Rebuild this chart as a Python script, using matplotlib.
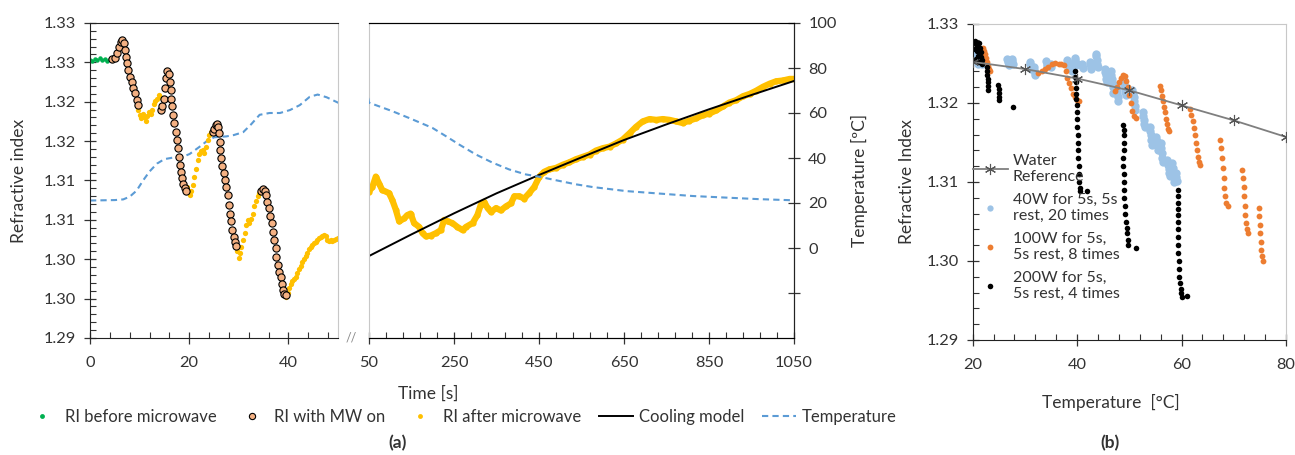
import numpy as np
import matplotlib.pyplot as plt
from matplotlib.lines import Line2D
from matplotlib.ticker import FixedLocator, MultipleLocator

plt.rcParams['font.family'] = ['Lato', 'DejaVu Sans']
plt.rcParams['text.color'] = '#333333'
plt.rcParams['axes.labelcolor'] = '#333333'
plt.rcParams['xtick.color'] = '#333333'
plt.rcParams['ytick.color'] = '#333333'

# ---- panel (a): RI vs time --------------------------------------------
before_t = [0, 0.5, 1.0, 1.5, 2.0, 2.5, 3.0, 3.5, 4.0, 4.3]
before_ri = [1.3253, 1.3252, 1.3254, 1.3253, 1.3255, 1.3253, 1.3254, 1.3252, 1.3254, 1.3253]

mw_t = [4.4, 5.0, 5.5, 5.9, 6.2, 6.5, 6.85, 7.1, 7.25, 7.4, 7.65, 8.05, 8.4, 8.7, 9.05, 9.4, 9.6,
        14.4, 14.6, 14.9, 15.1, 15.3, 15.6, 15.9, 16.1, 16.25, 16.4, 16.6, 16.8, 17.0, 17.25, 17.5,
        17.7, 17.9, 18.1, 18.3, 18.6, 18.85, 19.2, 19.45,
        24.8, 25.1, 25.4, 25.65, 25.9, 26.05, 26.2, 26.3, 26.5, 26.7, 27.0, 27.25, 27.5, 27.8, 28.05,
        28.25, 28.45, 28.7, 29.0, 29.25, 29.5,
        34.55, 34.9, 35.25, 35.5, 35.75, 36.05, 36.3, 36.6, 36.85, 37.1, 37.4, 37.6, 37.85, 38.1,
        38.45, 38.7, 38.95, 39.2, 39.45]
mw_ri = [1.3254, 1.3255, 1.32615, 1.3270, 1.32765, 1.32785, 1.3274, 1.32655, 1.3257, 1.3249,
         1.3240, 1.3232, 1.32255, 1.3218, 1.3211, 1.3202, 1.3196,
         1.3189, 1.31946, 1.3204, 1.3217, 1.3230, 1.3239, 1.3235, 1.32255, 1.3215, 1.3204, 1.3194,
         1.3183, 1.3173, 1.3162, 1.3151, 1.3141, 1.3130, 1.3120, 1.3111, 1.3103, 1.3096, 1.3090, 1.3087,
         1.3162, 1.3166, 1.31705, 1.3172, 1.3168, 1.3160, 1.3149, 1.3139, 1.3128, 1.3118, 1.3109,
         1.3101, 1.3092, 1.3082, 1.3069, 1.3058, 1.3048, 1.3037, 1.3028, 1.3022, 1.3017,
         1.3087, 1.3089, 1.3087, 1.3082, 1.3073, 1.3065, 1.3055, 1.3046, 1.3035, 1.3024, 1.3014,
         1.3003, 1.2993, 1.2984, 1.2978, 1.2969, 1.2961, 1.2956, 1.2955]

after_t = [9.75, 10.05, 10.35, 10.6, 10.85, 11.2, 11.55, 11.9, 12.2, 12.55, 12.9, 13.2, 13.55, 13.9, 14.2,
           19.6, 19.85, 20.15, 20.45, 20.8, 21.05, 21.35, 21.7, 22.0, 22.35, 22.7, 23.0, 23.35, 23.7,
           24.05, 24.45,
           29.65, 29.95, 30.2, 30.45, 30.8, 31.15, 31.5, 31.8, 32.15, 32.5, 32.8, 33.15, 33.5, 33.8, 34.15,
           39.6, 39.85, 40.15, 40.45, 40.8, 41.15, 41.5, 41.8, 42.15, 42.5, 42.8, 43.15, 43.5, 43.85,
           44.15, 44.5, 44.85, 45.15, 45.5, 45.85, 46.15, 46.5, 46.85, 47.2, 47.5, 47.85, 48.2, 48.5,
           48.85, 49.2, 49.55, 49.9]
after_ri = [1.3190, 1.3183, 1.3179, 1.3185, 1.3181, 1.3176, 1.3182, 1.3187, 1.3184, 1.3190, 1.3197,
            1.3201, 1.3204, 1.3209, 1.3206,
            1.3092, 1.3086, 1.3082, 1.3087, 1.3094, 1.3105, 1.3115, 1.3126, 1.3134, 1.3137, 1.3139,
            1.3135, 1.3143, 1.3151, 1.3158, 1.3161,
            1.3010, 1.3001, 1.3008, 1.3015, 1.3024, 1.3033, 1.30435, 1.3050, 1.30465, 1.3051, 1.3058,
            1.3067, 1.3074, 1.3080, 1.3084,
            1.2952, 1.2957, 1.2963, 1.2969, 1.2972, 1.2975, 1.2978, 1.2982, 1.2987, 1.2991, 1.2996,
            1.3000, 1.3004, 1.3008, 1.3013, 1.3016, 1.3018, 1.3020, 1.3022, 1.3024, 1.3027, 1.3028,
            1.3030, 1.3031, 1.3030, 1.3025, 1.3023, 1.3024, 1.3023, 1.3025, 1.3026, 1.3027]

after_long_t = [50, 58, 66, 74, 81, 97, 105, 113, 121, 133, 140, 148, 156, 168, 176, 184, 195, 207,
                219, 227, 235, 246, 258, 270, 278, 294, 305, 313, 321, 329, 337, 349, 360, 372, 384,
                392, 404, 415, 427, 439, 451, 462, 474, 490, 506, 521, 537, 553, 569, 584, 600, 616,
                631, 647, 663, 678, 694, 710, 726, 741, 757, 773, 788, 804, 820, 836, 851, 867, 883,
                898, 914, 930, 946, 961, 977, 993, 1008, 1024, 1040, 1050]
after_long_ri = [1.3086, 1.3092, 1.3105, 1.3096, 1.3088, 1.3084, 1.3075, 1.3063, 1.3048, 1.3052,
                 1.3056, 1.3058, 1.3046, 1.3041, 1.3033, 1.3029, 1.3030, 1.3033, 1.3037, 1.3050,
                 1.3048, 1.3046, 1.3041, 1.3037, 1.3041, 1.3046, 1.3056, 1.3069, 1.3073, 1.3065,
                 1.3060, 1.3065, 1.3062, 1.3067, 1.3071, 1.3080, 1.3080, 1.3077, 1.3084, 1.3092,
                 1.3105, 1.3111, 1.3114, 1.3116, 1.3120, 1.3123, 1.3127, 1.3130, 1.3133, 1.3138,
                 1.3141, 1.3143, 1.3147, 1.3152, 1.3160, 1.3168, 1.3175, 1.3178, 1.3177, 1.3178,
                 1.3177, 1.3175, 1.3173, 1.3176, 1.3179, 1.3183, 1.3185, 1.3189, 1.3194, 1.3199,
                 1.3202, 1.3207, 1.3210, 1.3214, 1.3219, 1.3223, 1.3226, 1.3227, 1.3229, 1.3229]

model_t = [50, 150, 250, 350, 450, 550, 650, 750, 850, 950, 1050]
model_ri = [1.30041, 1.30316, 1.30583, 1.30837, 1.31070, 1.31294, 1.31514, 1.31713, 1.31904,
            1.32086, 1.32264]

temp_t = [0, 5, 6.7, 8, 9.4, 10.7, 12, 13.5, 15, 16.8, 18.8, 20.1, 22.1, 23.5, 25, 27.5, 29, 30.9,
          32.5, 34.2, 36.2, 38.3, 40.3, 42.3, 44.3, 45.9, 47.7, 50,
          105, 144, 199, 231, 262, 301, 341, 380, 419, 450, 498, 537, 576, 655, 733, 812, 890, 969, 1050]
temp_c = [21.1, 21.3, 21.6, 22.8, 25.5, 30, 34, 37.5, 39.5, 40.2, 40.6, 41.8, 45.0, 47.4, 49.2, 49.6,
          50.2, 51.5, 55, 59.2, 60, 60, 61.3, 63.5, 67.2, 68.2, 67, 64.6,
          60.8, 57.8, 53.4, 49.7, 46, 41.6, 37.9, 34.9, 32.7, 31.7, 29.8, 28.3, 27.1, 25.3, 24.2,
          23.1, 22.4, 21.7, 21.2]

ri_ticks = [1.29, 1.295, 1.30, 1.305, 1.31, 1.315, 1.32, 1.325, 1.33]
ri_tick_labels = ['1.29', '1.30', '1.30', '1.31', '1.31', '1.32', '1.32', '1.33', '1.33']
temp_ticks = [-20, 0, 20, 40, 60, 80, 100]
temp_tick_labels = ['', '0', '20', '40', '60', '80', '100']

# ---- panel (b): RI vs temperature -------------------------------------
water_t = [20, 30, 40, 50, 60, 70, 80]
water_ri = [1.3252, 1.3243, 1.3231, 1.3216, 1.3197, 1.3178, 1.3157]

p40_t = [20.7, 20.8, 20.9, 21.0, 21.5, 21.6, 21.7,
         26.6, 26.7, 26.8, 26.9, 27.0, 27.5, 27.6, 27.7,
         30.9, 31.0, 31.1, 31.2, 31.7, 31.8, 31.9, 32.0,
         34.1, 34.2, 34.3, 34.9, 35.0,
         38.1, 38.2, 38.3, 38.8, 38.9, 39.0, 39.5, 39.6, 39.7, 39.8,
         40.9, 41.0, 41.1, 42.4, 42.5, 42.6, 42.7,
         43.6, 43.7, 43.8, 43.9, 44.0, 45.3, 45.4, 45.5, 45.6, 45.7,
         46.4, 46.5, 46.6, 46.7, 46.8, 46.9, 47.5, 47.6, 47.7, 47.8, 47.9,
         48.9, 49.0, 49.1, 49.2, 49.3, 50.6, 50.7, 50.8, 50.9, 51.0, 51.1,
         52.6, 52.7, 52.8, 52.9, 53.0, 53.9, 54.0, 54.1, 54.2, 54.3,
         55.1, 55.2, 55.3, 55.4, 56.0, 56.1, 56.2, 56.3, 56.4,
         57.3, 57.4, 57.5, 57.6, 57.7, 58.2, 58.3, 58.4, 58.5, 58.6, 58.9, 59.0, 59.1]
p40_ri = [1.3262, 1.3258, 1.3254, 1.3250, 1.3258, 1.3254, 1.3250,
          1.3256, 1.3254, 1.3252, 1.3250, 1.3248, 1.3256, 1.3253, 1.3250,
          1.3252, 1.3249, 1.3246, 1.3243, 1.3246, 1.3242, 1.3238, 1.3236,
          1.3253, 1.3250, 1.3247, 1.3250, 1.3246,
          1.3254, 1.3251, 1.3248, 1.3249, 1.3245, 1.3241, 1.3257, 1.3254, 1.3251, 1.3248,
          1.3250, 1.3247, 1.3244, 1.3252, 1.3249, 1.3246, 1.3243,
          1.3262, 1.3259, 1.3255, 1.3250, 1.3246, 1.3243, 1.3239, 1.3235, 1.3230, 1.3226,
          1.3241, 1.3236, 1.3231, 1.3226, 1.3220, 1.3213, 1.3222, 1.3217, 1.3212, 1.3207, 1.3203,
          1.3229, 1.3224, 1.3219, 1.3214, 1.3210, 1.3217, 1.3212, 1.3207, 1.3202, 1.3196, 1.3191,
          1.3189, 1.3184, 1.3179, 1.3174, 1.3170, 1.3170, 1.3165, 1.3159, 1.3153, 1.3147,
          1.3157, 1.3152, 1.3147, 1.3141, 1.3149, 1.3143, 1.3137, 1.3131, 1.3125,
          1.3128, 1.3122, 1.3117, 1.3112, 1.3107, 1.3124, 1.3118, 1.3112, 1.3106, 1.3100,
          1.3112, 1.3106, 1.3101]

p100_t = [21.9, 22.2, 22.4, 22.6, 22.8, 23.0, 23.2, 23.4,
          32.6, 33.2, 33.8, 34.5, 35.1, 35.8, 36.5, 37.0, 37.4, 37.8, 38.1, 38.4, 38.8, 39.2, 39.6,
          40.0, 40.4,
          47.2, 47.6, 48.0, 48.4, 48.8, 49.1, 49.4, 49.7, 50.0, 50.3, 50.6, 50.9, 51.2,
          55.9, 56.0, 56.2, 56.4, 56.6, 56.8, 57.0, 57.2, 57.4, 57.5,
          61.7, 61.9, 62.1, 62.3, 62.5, 62.7, 62.9, 63.1, 63.3, 63.5,
          67.4, 67.6, 67.8, 68.0, 68.1, 68.2, 68.4, 68.6, 68.8,
          71.6, 71.7, 71.9, 72.0, 72.1, 72.2, 72.3, 72.5, 72.7,
          74.8, 74.9, 75.0, 75.1, 75.2, 75.3, 75.4, 75.6]
p100_ri = [1.3270, 1.3266, 1.3262, 1.3257, 1.3252, 1.3247, 1.3243, 1.3241,
           1.3238, 1.3240, 1.3243, 1.3246, 1.3249, 1.3251, 1.3250, 1.3249, 1.3248, 1.3240, 1.3232,
           1.3225, 1.3219, 1.3212, 1.3207, 1.3204, 1.3203,
           1.3215, 1.3220, 1.3227, 1.3232, 1.3236, 1.3234, 1.3228, 1.3220, 1.3210, 1.3200, 1.3190,
           1.3184, 1.3181,
           1.3222, 1.3216, 1.3209, 1.3202, 1.3195, 1.3188, 1.3180, 1.3173, 1.3167, 1.3164,
           1.3192, 1.3185, 1.3177, 1.3168, 1.3159, 1.3150, 1.3140, 1.3132, 1.3125, 1.3121,
           1.3153, 1.3143, 1.3131, 1.3118, 1.3105, 1.3093, 1.3082, 1.3074, 1.3069,
           1.3115, 1.3105, 1.3094, 1.3082, 1.3070, 1.3058, 1.3048, 1.3040, 1.3035,
           1.3067, 1.3057, 1.3046, 1.3035, 1.3024, 1.3014, 1.3006, 1.3000]

p200_t = [20.4, 20.6, 20.8, 20.5, 20.9, 21.2, 21.4, 21.6, 21.0, 21.5, 21.8, 21.3, 21.7, 20.7,
          22.7, 22.8, 22.8, 22.9, 22.9, 23.0, 23.0,
          24.9, 25.0, 25.0, 25.1, 25.1, 27.8,
          39.6, 39.6, 39.7, 39.7, 39.8, 39.8, 39.9, 39.9, 40.0, 40.0, 40.1, 40.1, 40.2, 40.2, 40.3,
          40.3, 40.4, 40.5, 40.6, 41.9,
          48.8, 48.9, 49.0, 49.0, 48.9, 48.8, 48.8, 48.9, 48.9, 49.0, 49.0, 49.1, 49.2, 49.3, 49.5,
          49.6, 49.7, 49.8, 51.2,
          59.3, 59.3, 59.3, 59.4, 59.4, 59.4, 59.4, 59.4, 59.4, 59.4, 59.5, 59.5, 59.6, 59.7, 59.8,
          59.9, 60.0, 61.1]
p200_ri = [1.3278, 1.3275, 1.3272, 1.3268, 1.3266, 1.3276, 1.3270, 1.3264, 1.3260, 1.3258, 1.3255,
           1.3252, 1.3249, 1.3256,
           1.3246, 1.3241, 1.3236, 1.3231, 1.3226, 1.3221, 1.3216,
           1.3223, 1.3218, 1.3213, 1.3208, 1.3204, 1.3195,
           1.3240, 1.3233, 1.3226, 1.3219, 1.3212, 1.3205, 1.3197, 1.3189, 1.3180, 1.3170, 1.3160,
           1.3150, 1.3140, 1.3130, 1.3120, 1.3110, 1.3100, 1.3092, 1.3088, 1.3089,
           1.3172, 1.3166, 1.3160, 1.3150, 1.3140, 1.3130, 1.3120, 1.3110, 1.3100, 1.3090, 1.3080,
           1.3070, 1.3060, 1.3050, 1.3042, 1.3035, 1.3027, 1.3020, 1.3017,
           1.3090, 1.3082, 1.3074, 1.3066, 1.3058, 1.3050, 1.3040, 1.3030, 1.3020, 1.3010, 1.3000,
           1.2990, 1.2980, 1.2972, 1.2965, 1.2960, 1.2955, 1.2956]

GREEN = '#00B050'
ORANGE_FILL = '#F4B183'
GOLD = '#FFC000'
BLUE = '#5B9BD5'
LIGHTBLUE = '#9DC3E6'
ORANGE = '#ED7D31'
LIGHTGRAY = '#C8C8C8'

W, H = 1295, 455
fig = plt.figure(figsize=(W / 100, H / 100), dpi=100)


def box(x0, y0, x1, y1):
    return [x0 / W, 1 - y1 / H, (x1 - x0) / W, (y1 - y0) / H]


def style_ticks(ax):
    ax.tick_params(which='major', direction='inout', length=8.5, width=0.9, labelsize=11.8)
    ax.tick_params(which='minor', direction='in', length=4, width=0.8)


# left part of (a)
ax1 = fig.add_axes(box(90, 23, 338, 338))
t1 = ax1.twinx()
t1.set_ylim(-40, 100)
t1.axis('off')
t1.plot(temp_t, temp_c, ls=(0, (3, 2)), color=BLUE, lw=1.5)
ax1.set_zorder(2)
ax1.patch.set_visible(False)
ax1.plot(after_t, after_ri, 'o', color=GOLD, ms=3.8, mec='none')
ax1.plot(before_t, before_ri, 'o', color=GREEN, ms=3.2, mec='none')
ax1.plot(mw_t, mw_ri, 'o', color=ORANGE_FILL, ms=5.2, mec='black', mew=0.8)
ax1.set_xlim(0, 50)
ax1.set_ylim(1.29, 1.33)
ax1.xaxis.set_major_locator(FixedLocator([0, 20, 40]))
ax1.xaxis.set_minor_locator(FixedLocator(np.arange(0, 50, 4)))
ax1.yaxis.set_major_locator(FixedLocator(ri_ticks))
ax1.set_yticklabels(ri_tick_labels)
ax1.yaxis.set_minor_locator(MultipleLocator(0.001))
style_ticks(ax1)
ax1.tick_params(axis='x', pad=9)
ax1.tick_params(axis='y', pad=6)
ax1.spines['right'].set_color(LIGHTGRAY)
for s in ('left', 'bottom', 'top'):
    ax1.spines[s].set_color('#222222')
ax1.set_ylabel('Refractive index', fontsize=12.5)
ax1.yaxis.set_label_coords(-0.255, 0.5)

# right part of (a)
ax2 = fig.add_axes(box(369, 23, 794, 338))
ax2.plot(after_long_t, after_long_ri, '-o', color=GOLD, lw=4.5, ms=4.5, mec='none')
ax2.plot(model_t, model_ri, '-', color='black', lw=1.4)
ax2.set_xlim(50, 1050)
ax2.set_ylim(1.29, 1.33)
ax2.xaxis.set_major_locator(FixedLocator([50, 250, 450, 650, 850, 1050]))
ax2.xaxis.set_minor_locator(FixedLocator(np.arange(50, 1051, 40)))
ax2.set_yticks([])
style_ticks(ax2)
ax2.tick_params(axis='x', pad=9)
ax2.spines['left'].set_color(LIGHTGRAY)
for s in ('right', 'bottom', 'top'):
    ax2.spines[s].set_color('#222222')
ax2.set_xlabel('Time [s]', fontsize=12.5)
ax2.xaxis.set_label_coords(0.139, -0.15)
t2 = ax2.twinx()
t2.plot(temp_t, temp_c, ls=(0, (3, 2)), color=BLUE, lw=1.5)
t2.set_ylim(-40, 100)
t2.yaxis.set_major_locator(FixedLocator(temp_ticks))
t2.set_yticklabels(temp_tick_labels)
t2.tick_params(which='major', direction='inout', length=8.5, width=0.9, labelsize=11.8, pad=6)
t2.spines['right'].set_color('#222222')
t2.spines['left'].set_visible(False)
t2.set_ylabel('Temperature [ºC]', fontsize=12.5)
t2.yaxis.set_label_coords(1.135, 0.5)

fig.text(351 / W, 1 - 337 / H, '//', color='#888888', fontsize=9, ha='center', va='center')

handles_a = [
    Line2D([], [], ls='none', marker='o', color=GREEN, ms=3.5, mec='none'),
    Line2D([], [], ls='none', marker='o', color=ORANGE_FILL, ms=4.5, mec='black', mew=0.8),
    Line2D([], [], ls='none', marker='o', color=GOLD, ms=3.5, mec='none'),
    Line2D([], [], color='black', lw=1.4),
    Line2D([], [], color=BLUE, lw=1.5, ls=(0, (3, 2))),
]
labels_a = ['RI before microwave', 'RI with MW on', 'RI after microwave', 'Cooling model', 'Temperature']
fig.legend(handles_a, labels_a, loc='center', bbox_to_anchor=(461 / W, 1 - 417 / H), ncol=5,
           frameon=False, fontsize=12, handlelength=2.0, handletextpad=0.35, columnspacing=1.1)
fig.text(398 / W, 1 - 443 / H, '(a)', fontsize=12.5, fontweight='bold', ha='center', va='center')

# panel (b)
ax3 = fig.add_axes(box(972.7, 24, 1286, 340))
ax3.plot(p40_t, p40_ri, 'o', color=LIGHTBLUE, ms=6, mec='none')
ax3.plot(p100_t, p100_ri, 'o', color=ORANGE, ms=4.2, mec='none')
ax3.plot(p200_t, p200_ri, 'o', color='black', ms=4.0, mec='none')
ax3.plot(water_t, water_ri, '-', color='#7F7F7F', lw=1.3, marker=(6, 2, 0), ms=8, mec='#555555', mew=0.8,
         zorder=5)
ax3.set_xlim(20, 80)
ax3.set_ylim(1.29, 1.33)
ax3.xaxis.set_major_locator(FixedLocator([20, 40, 60, 80]))
ax3.xaxis.set_minor_locator(MultipleLocator(4))
ax3.yaxis.set_major_locator(FixedLocator([1.29, 1.30, 1.31, 1.32, 1.33]))
ax3.set_yticklabels(['1.29', '1.30', '1.31', '1.32', '1.33'])
ax3.yaxis.set_minor_locator(MultipleLocator(0.002))
style_ticks(ax3)
ax3.tick_params(axis='x', pad=9)
ax3.tick_params(axis='y', pad=6)
ax3.spines['top'].set_color(LIGHTGRAY)
ax3.spines['right'].set_color(LIGHTGRAY)
ax3.spines['left'].set_color('#222222')
ax3.spines['bottom'].set_color('#222222')
ax3.set_ylabel('Refractive Index', fontsize=12.5)
ax3.yaxis.set_label_coords(-0.185, 0.5)
ax3.set_xlabel('Temperature  [°C]', fontsize=12.5)
ax3.xaxis.set_label_coords(0.44, -0.17)

handles_b = [
    Line2D([], [], color='#7F7F7F', lw=1.3, marker=(6, 2, 0), ms=8, mec='#555555', mew=0.8),
    Line2D([], [], ls='none', marker='o', color=LIGHTBLUE, ms=4.5, mec='none'),
    Line2D([], [], ls='none', marker='o', color=ORANGE, ms=4.2, mec='none'),
    Line2D([], [], ls='none', marker='o', color='black', ms=4.0, mec='none'),
]
labels_b = ['Water\nReference', '40W for 5s, 5s\nrest, 20 times', '100W for 5s,\n5s rest, 8 times',
            '200W for 5s,\n5s rest, 4 times']
ax3.legend(handles_b, labels_b, loc='upper left', bbox_to_anchor=(-0.02, 0.61), frameon=False,
           fontsize=11.5, handlelength=2.2, handletextpad=0.3, labelspacing=0.55, borderaxespad=0)
fig.text(1110 / W, 1 - 443 / H, '(b)', fontsize=12.5, fontweight='bold', ha='center', va='center')

fig.savefig('out.png', dpi=100)
